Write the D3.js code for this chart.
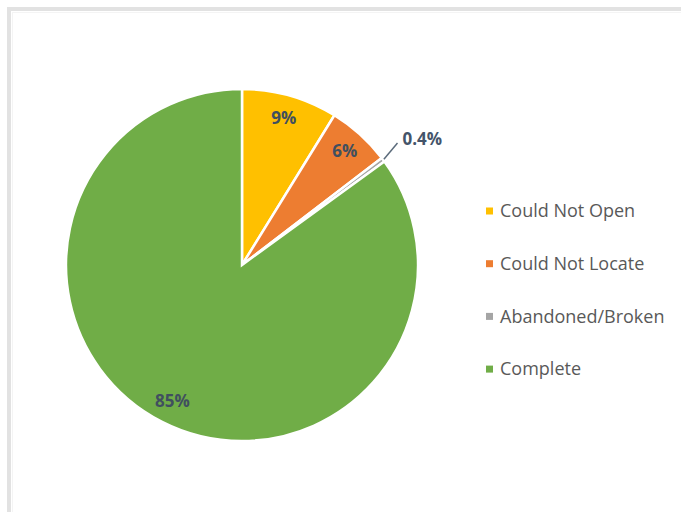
<!DOCTYPE html>
<html>
<head>
<meta charset="utf-8">
<script src="https://cdn.jsdelivr.net/npm/d3@7"></script>
<style>
  body { margin: 0; background: #fff; }
  text { font-family: "Open Sans", "Liberation Sans", sans-serif; }
</style>
</head>
<body>
<svg id="chart" width="681" height="512"></svg>
<script>
// slice data
var categories = ["Could Not Open", "Could Not Locate", "Abandoned/Broken", "Complete"];
var values = [8.8, 5.8, 0.4, 85.0];
var labels = ["9%", "6%", "0.4%", "85%"];
var colors = ["#FFC000", "#ED7D31", "#A5A5A5", "#70AD47"];

function main() {
    var svg = d3.select("#chart");

    // outer frame (runs off the right and bottom of the picture)
    svg.append("rect")
        .attr("x", 9).attr("y", 9)
        .attr("width", 700).attr("height", 540)
        .attr("fill", "none")
        .attr("stroke", "#e2e2e2")
        .attr("stroke-width", 4);
    svg.append("rect")
        .attr("x", 12.5).attr("y", 12.5)
        .attr("width", 700).attr("height", 540)
        .attr("fill", "none")
        .attr("stroke", "#f4f4f4")
        .attr("stroke-width", 1);

    var cx = 242, cy = 265, r = 176;

    var pie = d3.pie().sort(null).value(function(d) { return d; });
    var arcs = pie(values);
    var arc = d3.arc().innerRadius(0).outerRadius(r);

    var g = svg.append("g")
        .attr("transform", "translate(" + cx + "," + cy + ")");

    g.selectAll(".slice")
        .data(arcs)
        .enter().append("path")
        .attr("class", "slice")
        .attr("d", arc)
        .attr("fill", function(d, i) { return colors[i]; })
        .attr("stroke", "#fff")
        .attr("stroke-width", 2.5);

    // labels inside the slices
    var inner = d3.arc().innerRadius(r * 0.87).outerRadius(r * 0.87);
    g.selectAll(".lbl")
        .data(arcs.filter(function(d, i) { return i !== 2; }))
        .enter().append("text")
        .attr("class", "lbl")
        .attr("transform", function(d) {
            var c = inner.centroid(d);
            return "translate(" + c[0] + "," + c[1] + ")";
        })
        .attr("text-anchor", "middle")
        .attr("dy", "0.35em")
        .attr("font-size", 17)
        .attr("font-weight", "bold")
        .attr("fill", "#404f5f")
        .text(function(d) { return labels[d.index]; });

    // small slice: label outside with a leader line
    var small = arcs[2];
    var mid = (small.startAngle + small.endAngle) / 2;
    var p1 = [Math.sin(mid) * (r + 1), -Math.cos(mid) * (r + 1)];
    var p2 = [Math.sin(mid) * (r + 18), -Math.cos(mid) * (r + 18) - 6];
    g.append("line")
        .attr("x1", p1[0]).attr("y1", p1[1])
        .attr("x2", p2[0]).attr("y2", p2[1])
        .attr("stroke", "#5b6b7b")
        .attr("stroke-width", 1.5);
    g.append("text")
        .attr("x", p2[0] + 5).attr("y", p2[1] - 4)
        .attr("dy", "0.35em")
        .attr("font-size", 17)
        .attr("font-weight", "bold")
        .attr("fill", "#44546a")
        .text(labels[2]);

    // legend
    var legend = svg.append("g").attr("transform", "translate(486,211)");
    var items = legend.selectAll(".item")
        .data(categories)
        .enter().append("g")
        .attr("class", "item")
        .attr("transform", function(d, i) { return "translate(0," + (i * 52.7) + ")"; });
    items.append("rect")
        .attr("x", 0).attr("y", -3.5)
        .attr("width", 7).attr("height", 7)
        .attr("fill", function(d, i) { return colors[i]; });
    items.append("text")
        .attr("x", 14).attr("dy", "0.35em")
        .attr("font-size", 18)
        .attr("fill", "#595959")
        .text(function(d) { return d; });
}
main();
</script>
</body>
</html>
